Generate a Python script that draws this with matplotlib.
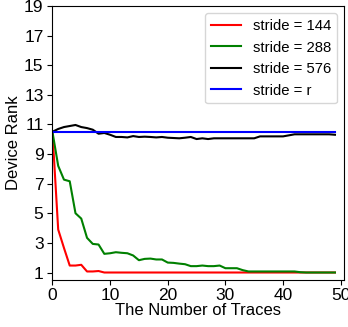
import matplotlib
matplotlib.use("Agg")
import matplotlib.pyplot as plt
import numpy as np

plt.rcParams['font.family'] = ['Liberation Sans', 'DejaVu Sans']

traces = list(range(50))
rank_144 = [10.5, 3.9, 2.66, 1.47, 1.47, 1.52, 1.07, 1.07, 1.1] + [1.0] * 41
rank_288 = [10.5, 8.2, 7.27, 7.16, 5.0, 4.64, 3.34, 2.93, 2.89, 2.26,
            2.3, 2.37, 2.33, 2.3, 2.15, 1.83, 1.92, 1.94, 1.88, 1.88,
            1.67, 1.65, 1.6, 1.56, 1.43, 1.43, 1.47, 1.43, 1.43, 1.47,
            1.29, 1.29, 1.29, 1.16, 1.07, 1.07, 1.07, 1.07, 1.07, 1.07,
            1.07, 1.07, 1.07, 1.02, 1.0, 1.0, 1.0, 1.0, 1.0, 1.0]
rank_576 = [10.5, 10.69, 10.82, 10.89, 10.96, 10.82, 10.75, 10.64, 10.37, 10.42,
            10.3, 10.15, 10.15, 10.12, 10.21, 10.15, 10.17, 10.15, 10.12, 10.15,
            10.1, 10.08, 10.06, 10.1, 10.15, 10.01, 10.06, 10.01, 10.06, 10.06,
            10.06, 10.06, 10.06, 10.06, 10.06, 10.06, 10.19, 10.19, 10.19, 10.19,
            10.19, 10.26, 10.33, 10.33, 10.33, 10.33, 10.33, 10.33, 10.33, 10.3]
rank_r = [10.5] * 50

labels = ["stride = 144", "stride = 288", "stride = 576", "stride = r"]
colors = ["red", "green", "black", "blue"]
xticks = [0, 10, 20, 30, 40, 50]
yticks = [1, 3, 5, 7, 9, 11, 13, 15, 17, 19]

fig = plt.figure(figsize=(3.48, 3.27), dpi=100)
ax = fig.add_axes([0.149, 0.144, 0.84, 0.838])
for series, lab, c in zip([rank_144, rank_288, rank_576, rank_r], labels, colors):
    ax.plot(traces, series, color=c, lw=1.5, label=lab)

ax.set_xlim(-0.1, 50.6)
ax.set_ylim(0.5, 19)
ax.set_xticks(xticks)
ax.set_yticks(yticks)
ax.tick_params(labelsize=12.5, pad=2.5)
ax.set_xlabel("The Number of Traces", fontsize=12, labelpad=0)
ax.set_ylabel("Device Rank", fontsize=12, labelpad=2)
ax.legend(loc="upper right", fontsize=10.7, handlelength=2.0)
fig.savefig("out.png", dpi=100)
